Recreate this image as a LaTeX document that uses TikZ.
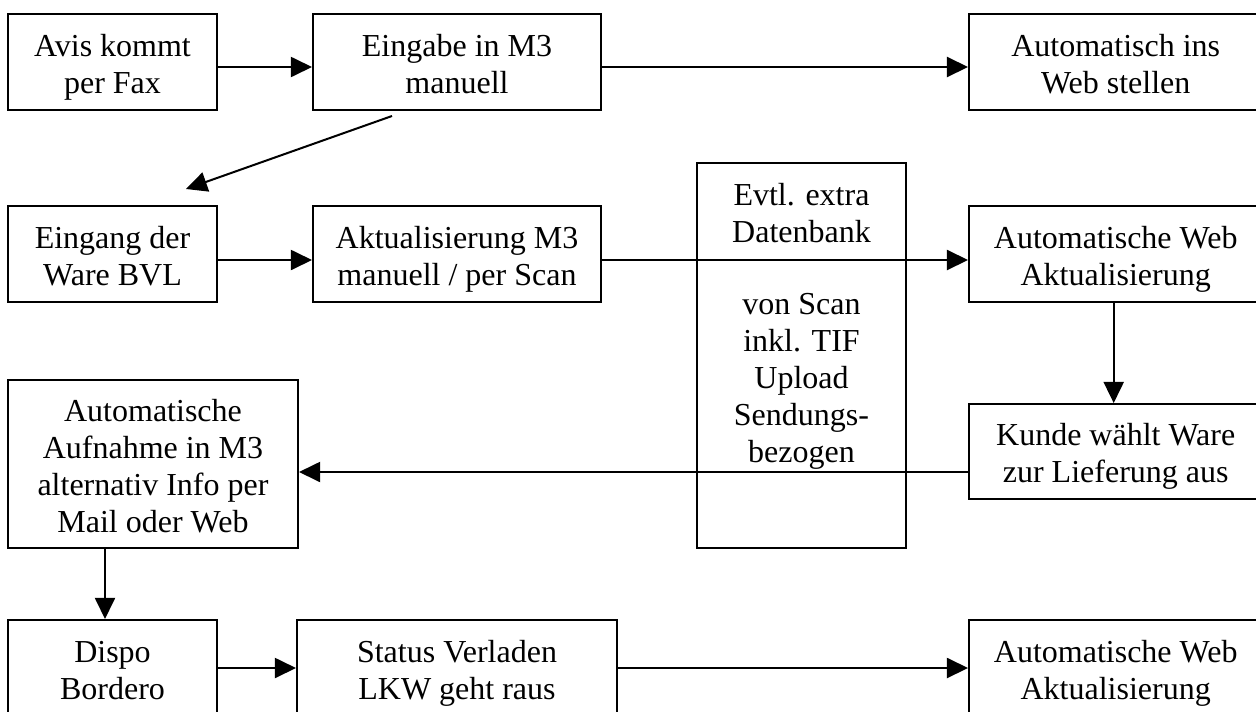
\documentclass[tikz,border=0pt]{standalone}
\usepackage{fontspec}
\setmainfont{Liberation Serif}
\usetikzlibrary{arrows.meta,calc}
\newcommand\tb{\rule{0pt}{12.2pt}}
\begin{document}
\begin{tikzpicture}[x=0.375pt,y=-0.375pt,
  txt/.style={inner sep=0pt, align=center,
    font=\fontsize{12pt}{13.9pt}\selectfont,
    execute at end node={\rule[-2.7pt]{0pt}{2.7pt}}},
  box/.style={txt, draw, line width=0.75pt},
  narrow/.style={box, minimum width=78.4pt, minimum height=36pt},
  wide/.style={box, minimum width=108pt, minimum height=36pt},
  rwide/.style={box, minimum width=110pt, minimum height=36pt},
  conn/.style={line width=0.75pt, -{Triangle[length=7.9pt,width=7.5pt]}}]
\useasboundingbox (0,0) rectangle (1256,711);
% row 1
\node[narrow] (avis) at (112.5,62) {\tb Avis kommt\\per Fax};
\node[wide] (eingabe) at (457,62) {\tb Eingabe in M3\\manuell};
\node[rwide] (autoweb) at (1115.7,62) {\tb Automatisch ins\\Web stellen};
% row 2
\node[narrow] (eingang) at (112.5,254) {\tb Eingang der\\Ware BVL};
\node[wide] (akt) at (457,254) {\tb Aktualisierung M3\\manuell / per Scan};
\node[draw, line width=0.75pt, inner sep=0pt, minimum width=78.4pt, minimum height=144.4pt] (db) at (801.5,355.5) {};
\node[txt] (dbtxt) at ($(db.north)+(0,159.5)$) {\tb Evtl. extra\\Datenbank\\[13.2pt]von Scan\\inkl. TIF\\Upload\\Sendungs-\\bezogen};
\node[rwide] (web) at (1115.7,254) {\tb Automatische Web\\Aktualisierung};
% row 3
\node[box, minimum width=110pt, minimum height=35.6pt] (kunde) at (1115.7,451.5) {\tb Kunde wählt Ware\\zur Lieferung aus};
\node[box, minimum width=108.75pt, minimum height=63pt] (aufn) at (153,464) {\tb Automatische\\Aufnahme in M3\\alternativ Info per\\Mail oder Web};
% row 4
\node[narrow] (dispo) at (112.5,668) {\tb Dispo\\Bordero};
\node[box, minimum width=120pt, minimum height=36pt] (status) at (457,668) {\tb Status Verladen\\LKW geht raus};
\node[rwide] (web2) at (1115.7,668) {\tb Automatische Web\\Aktualisierung};
% connectors
\draw[conn] ($(avis.east)+(0,5)$) -- ($(eingabe.west)+(0,5)$);
\draw[conn] ($(eingabe.east)+(0,5)$) -- ($(autoweb.west)+(0,5)$);
\draw[conn] ($(eingabe.south west)+(80,5)$) -- ($(eingang.north west)+(179,-16)$);
\draw[conn] ($(eingang.east)+(0,6)$) -- ($(akt.west)+(0,6)$);
\draw[conn] ($(akt.east)+(0,6)$) -- ($(web.west)+(0,6)$);
\coordinate (w1) at ($(web.south)+(-2,0)$);
\draw[conn] (w1) -- (kunde.north -| w1);
\coordinate (k1) at ($(kunde.west)+(0,20.5)$);
\draw[conn] (k1) -- (aufn.east |- k1);
\coordinate (a1) at ($(aufn.south)+(-48,0)$);
\draw[conn] (a1) -- (dispo.north -| a1);
\draw[conn] (dispo.east) -- (status.west);
\draw[conn] (status.east) -- (web2.west);
\end{tikzpicture}
\end{document}
